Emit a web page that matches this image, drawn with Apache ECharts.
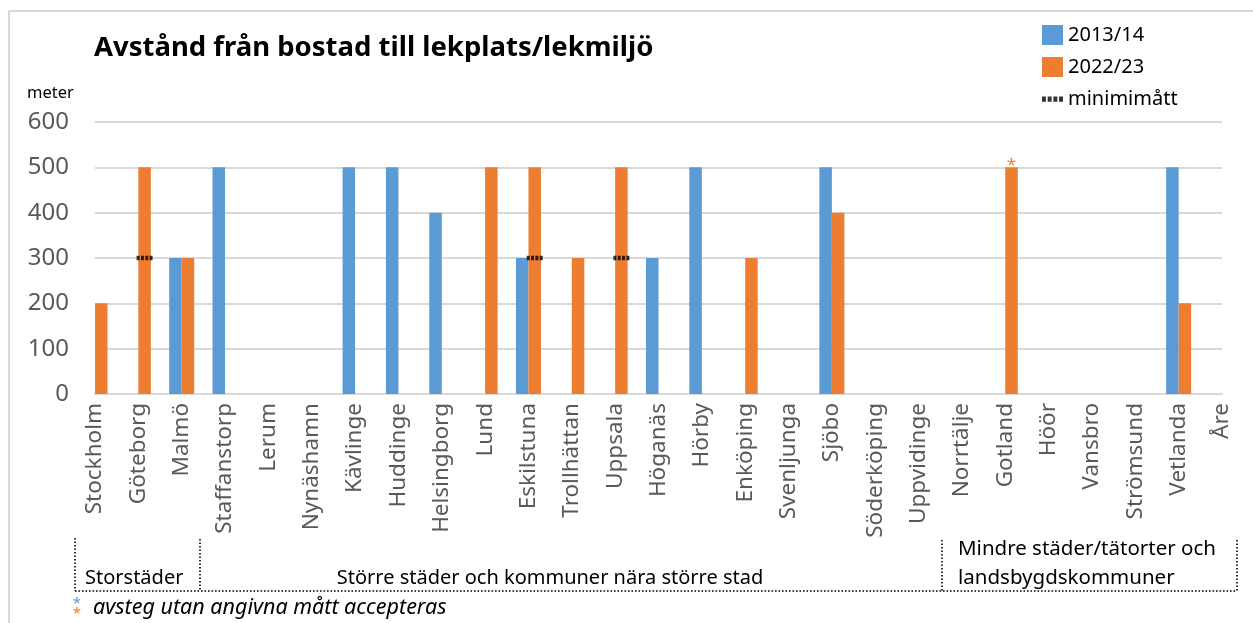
<!DOCTYPE html>
<html>
<head>
<meta charset="utf-8">
<script src="https://cdn.jsdelivr.net/npm/echarts@6/dist/echarts.min.js"></script>
<style>
html,body{margin:0;padding:0;background:#fff;}
#chart{width:1253px;height:623px;}
</style>
</head>
<body>
<div id="chart"></div>
<script>
const categories = ['Stockholm','Göteborg','Malmö','Staffanstorp','Lerum','Nynäshamn','Kävlinge','Huddinge','Helsingborg','Lund','Eskilstuna','Trollhättan','Uppsala','Höganäs','Hörby','Enköping','Svenljunga','Sjöbo','Söderköping','Uppvidinge','Norrtälje','Gotland','Höör','Vansbro','Strömsund','Vetlanda','Åre'];
const values2013 = [null,null,300,500,null,null,500,500,400,null,300,null,null,300,500,null,null,500,null,null,null,null,null,null,null,500,null];
const values2022 = [200,500,300,null,null,null,null,null,null,500,500,300,500,null,null,300,null,400,null,null,null,500,null,null,null,200,null];
const minimum = [null,300,null,null,null,null,null,null,null,null,300,null,300,null,null,null,null,null,null,null,null,null,null,null,null,null,null];
const flagged2022 = ['Gotland'];
const yTicks = [0,100,200,300,400,500,600];

const BLUE = '#5B9BD5', ORANGE = '#ED7D31';
const FONT = 'Noto Sans';
const dashPath = 'path://M0 0H3V4H0Z M4.33 0H7.33V4H4.33Z M8.67 0H11.67V4H8.67Z M13 0H16V4H13Z';

const data2022 = values2022.map((v, i) => flagged2022.includes(categories[i]) && v != null
  ? {value: v, label: {show: true, position: 'top', distance: -6, formatter: '*', color: ORANGE, fontSize: 17, fontFamily: FONT}}
  : v);

const chart = echarts.init(document.getElementById('chart'));
const dotted = {stroke: '#000', lineWidth: 1.6, lineDash: [1.6, 1.9]};
chart.setOption({
  animation: false,
  textStyle: {fontFamily: FONT},
  grid: {left: 95, right: 31, top: 122, bottom: 229, containLabel: false},
  legend: {
    orient: 'vertical', left: 1037, top: 20, itemWidth: 21, itemHeight: 20, itemGap: 12,
    textStyle: {fontSize: 20, color: '#000', fontFamily: FONT},
    data: [
      {name: '2013/14', icon: 'rect'},
      {name: '2022/23', icon: 'rect'},
      {name: 'minimimått', icon: dashPath}
    ]
  },
  xAxis: {
    type: 'category', data: categories, boundaryGap: false,
    axisTick: {show: false},
    axisLine: {lineStyle: {color: '#d9d9d9', width: 2}},
    axisLabel: {rotate: 90, interval: 0, margin: 9, fontSize: 22.5, color: '#595959', fontFamily: FONT},
    splitLine: {show: false}
  },
  yAxis: {
    type: 'value', min: yTicks[0], max: yTicks[yTicks.length-1], interval: 100,
    axisLine: {show: false}, axisTick: {show: false},
    axisLabel: {fontSize: 24, color: '#595959', margin: 26, fontFamily: FONT},
    splitLine: {lineStyle: {color: '#d9d9d9', width: 2}}
  },
  series: [
    {name: '2013/14', type: 'bar', data: values2013, barWidth: 12.5, barGap: '0%', itemStyle: {color: BLUE}, clip: true},
    {name: '2022/23', type: 'bar', data: data2022, barWidth: 12.5, barGap: '0%', itemStyle: {color: ORANGE}, clip: true},
    {name: 'minimimått', type: 'scatter', data: minimum, symbol: dashPath, symbolSize: [16, 4.5], symbolOffset: [6.25, 0], itemStyle: {color: '#000'}, z: 5}
  ],
  graphic: [
    {type: 'line', shape: {x1: 9, y1: 11, x2: 1253, y2: 11}, style: {stroke: '#d9d9d9', lineWidth: 2}},
    {type: 'line', shape: {x1: 9, y1: 11, x2: 9, y2: 623}, style: {stroke: '#d9d9d9', lineWidth: 2}},
    {type: 'text', left: 94, top: 34, style: {text: 'Avstånd från bostad till lekplats/lekmiljö', font: 'bold 27.5px "Noto Sans"', fill: '#000'}},
    {type: 'text', left: 27, top: 85, style: {text: 'meter', font: '16.5px "Noto Sans"', fill: '#000'}},
    {type: 'line', shape: {x1: 75, y1: 591, x2: 1237, y2: 591}, style: dotted},
    {type: 'line', shape: {x1: 75, y1: 538, x2: 75, y2: 591}, style: dotted},
    {type: 'line', shape: {x1: 200, y1: 539, x2: 200, y2: 591}, style: dotted},
    {type: 'line', shape: {x1: 942, y1: 540, x2: 942, y2: 591}, style: dotted},
    {type: 'line', shape: {x1: 1237, y1: 540, x2: 1237, y2: 591}, style: dotted},
    {type: 'text', x: 85, y: 578, style: {text: 'Storstäder', font: '20px "Noto Sans"', fill: '#000', textVerticalAlign: 'middle'}},
    {type: 'text', x: 550, y: 578, style: {text: 'Större städer och kommuner nära större stad', font: '20px "Noto Sans"', fill: '#000', textAlign: 'center', textVerticalAlign: 'middle'}},
    {type: 'text', x: 958, y: 549, style: {text: 'Mindre städer/tätorter och', font: '20.5px "Noto Sans"', fill: '#000', textVerticalAlign: 'middle'}},
    {type: 'text', x: 958, y: 578, style: {text: 'landsbygdskommuner', font: '20.5px "Noto Sans"', fill: '#000', textVerticalAlign: 'middle'}},
    {type: 'text', x: 77, y: 604, style: {text: '*', font: '15px "Noto Sans"', fill: BLUE, textAlign: 'center', textVerticalAlign: 'middle'}},
    {type: 'text', x: 77, y: 614, style: {text: '*', font: '15px "Noto Sans"', fill: ORANGE, textAlign: 'center', textVerticalAlign: 'middle'}},
    {type: 'text', x: 93, y: 608, style: {text: 'avsteg utan angivna mått accepteras', font: 'italic 21.5px "Noto Sans"', fill: '#000', textVerticalAlign: 'middle'}}
  ]
});
</script>
</body>
</html>
